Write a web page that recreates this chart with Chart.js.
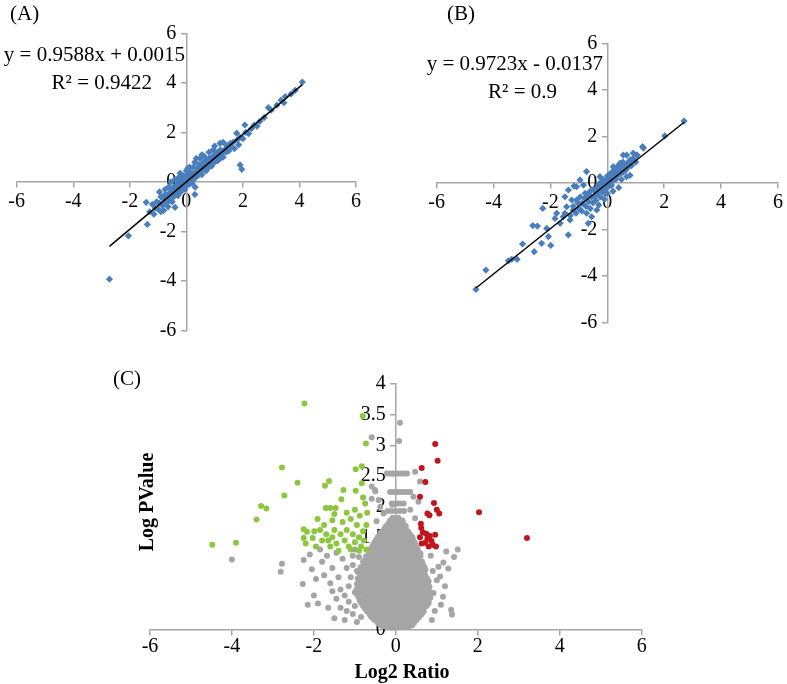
<!DOCTYPE html>
<html>
<head>
<meta charset="utf-8">
<script src="https://cdn.jsdelivr.net/npm/chart.js@4.4.0/dist/chart.umd.min.js"></script>
<style>
  body { margin: 0; background: #fff; }
  #wrap { position: relative; width: 787px; height: 684px; font-family: 'Liberation Serif', 'Times New Roman', serif; }
  canvas { position: absolute; left: 0; top: 0; }
  .lbl { position: absolute; font-size: 21px; line-height: 1; white-space: nowrap; color: #000; }
  .bold { font-weight: bold; font-size: 20px; }
</style>
</head>
<body>
<div id="wrap">
  <canvas id="chartA" width="787" height="684"></canvas>
  <canvas id="chartB" width="787" height="684"></canvas>
  <canvas id="chartC" width="787" height="684"></canvas>

  <div class="lbl" style="left:10px;top:3px">(A)</div>
  <div class="lbl" style="right:602px;top:44px">y = 0.9588x + 0.0015</div>
  <div class="lbl" style="right:635px;top:72px">R² = 0.9422</div>

  <div class="lbl" style="left:447px;top:3px">(B)</div>
  <div class="lbl" style="right:184px;top:53px">y = 0.9723x - 0.0137</div>
  <div class="lbl" style="right:230px;top:81px">R² = 0.9</div>

  <div class="lbl" style="right:646px;top:368px">(C)</div>
  <div class="lbl bold" style="left:146px;top:502px;transform:translate(-50%,-50%) rotate(-90deg)">Log PValue</div>
  <div class="lbl bold" style="left:402px;top:661px;transform:translateX(-50%)">Log2 Ratio</div>
</div>

<script>
// ---- data ----
const abTicks = [-6, -4, -2, 0, 2, 4, 6];
const cXTicks = [-6, -4, -2, 0, 2, 4, 6];
const cYTicks = [0, 0.5, 1, 1.5, 2, 2.5, 3, 3.5, 4];

// (A)
const aPoints = [
  [-2.72,-3.92],[-2.05,-2.17],[-1.38,-1.71],[-1.42,-0.82],[-0.4,-1.02],[0.31,-0.21],[1.9,0.69],[1.96,0.51],[0.3,-0.5],
  [-1.3,-1.2],[-1.2,-0.9],[-1.15,-1.3],[-1.1,-1.05],[-1.05,-0.8],[-1.0,-1.1],[-0.95,-0.85],[-0.9,-1.2],[-0.9,-0.6],
  [-0.85,-0.95],[-0.8,-0.7],[-0.8,-1.15],[-0.75,-0.5],[-0.7,-0.85],[-0.7,-0.6],[-0.65,-1.0],[-0.6,-0.45],[-0.6,-0.75],
  [-0.55,-0.55],[-0.5,-0.3],[-0.5,-0.8],[-0.45,-0.6],[-0.45,-0.2],[-0.4,-0.45],[-0.35,-0.15],[-0.35,-0.35],[-0.3,-0.55],
  [-0.3,0.05],[-0.25,-0.25],[-0.25,0.2],[-0.2,-0.4],[-0.2,-0.05],[-0.15,0.1],[-0.15,-0.2],[-0.1,-0.1],[-0.1,0.25],
  [-0.05,0.0],[-0.05,-0.3],[0,0.1],[0,-0.15],[0.05,0.3],[0.05,0.0],[0.1,-0.1],[0.1,0.15],[0.15,0.4],[0.15,0.05],
  [0.2,0.2],[0.2,-0.05],[0.25,0.35],[0.25,0.6],[0.3,0.15],[0.35,0.4],[0.4,0.25],[0.4,0.55],[0.45,0.7],[0.5,0.4],
  [0.5,0.6],[0.55,0.3],[0.6,0.55],[0.6,0.8],[0.65,0.65],[0.7,0.45],[0.7,0.9],[0.75,0.7],[0.8,0.6],[0.8,0.95],
  [0.85,0.8],[0.9,1.0],[0.9,0.65],[0.95,0.85],[1.0,1.1],[1.0,0.8],[1.05,0.95],[1.1,1.2],[1.1,0.85],[1.15,1.05],
  [1.19,1.56],[1.2,1.3],[1.2,0.95],[1.25,1.15],[1.3,1.0],[1.35,1.3],[1.4,1.2],[1.43,1.47],[1.45,1.45],[1.5,1.25],
  [1.55,1.55],[1.6,1.4],[1.65,1.6],[1.7,1.35],[1.78,1.97],[1.8,1.7],[1.85,1.5],[1.9,1.8],[2.0,1.75],[2.07,2.3],
  [2.1,2.0],[2.2,1.95],[2.3,2.15],[2.4,2.3],[2.5,2.25],[2.6,2.45],[2.75,2.6],[2.9,3.0],[3.0,2.9],[3.2,3.1],
  [3.35,3.3],[3.45,3.2],[3.5,3.45],[3.7,3.55],[3.85,3.7],[4.1,4.03],
  [-0.62,-0.2],[-0.4,0.1],[-0.22,0.35],[0.0,0.45],[0.12,0.6],[0.3,0.8],[0.48,0.95],[0.62,1.05],[0.8,1.2],[0.95,1.3],
  [-0.95,-0.4],[-0.75,-0.3],[0.35,0.95],[0.55,1.1],[1.0,1.45],[1.3,1.6],[0.05,0.55],[-0.55,0.0]
];
const aTrend = [[-2.72, -2.6], [4.1, 3.93]];

// (B)
const bPoints = [
  [-4.62,-4.57],[-4.27,-3.74],[-3.48,-3.34],[-3.36,-3.28],[-3.17,-3.28],[-2.98,-2.62],[-2.57,-2.95],[-2.62,-1.83],
  [-2.46,-1.85],[-2.31,-2.59],[-2.27,-1.09],[-2.13,-1.95],[-2.07,-2.3],[-1.99,-2.68],[-1.84,-1.52],[-1.78,-1.3],
  [-1.66,-1.73],[-1.55,-1.45],[-1.49,-1.3],[-1.49,-0.59],[-1.43,-1.02],[-1.37,-2.23],[-1.37,-0.3],[-1.31,-1.59],
  [-1.25,-0.73],[-1.2,-1.16],[-1.17,-0.13],[-1.08,-0.16],[-1.08,-0.73],[-0.96,0.13],[-0.9,-0.87],[-0.84,-0.09],
  [-0.78,-0.44],[-0.73,0.49],[-0.73,-1.3],[-0.67,-1.73],[-0.55,-1.45],[-0.49,-0.3],[-0.37,-1.16],[-0.26,0.27],
  [-1.3,-1.4],[-1.2,-1.0],[-1.1,-1.3],[-1.05,-0.85],[-1.0,-1.1],[-0.95,-0.6],[-0.9,-1.2],[-0.85,-0.9],[-0.8,-0.65],
  [-0.75,-1.0],[-0.7,-0.5],[-0.65,-0.8],[-0.6,-1.1],[-0.6,-0.35],[-0.55,-0.6],[-0.5,-0.85],[-0.45,-0.3],[-0.45,-0.55],
  [-0.4,-0.75],[-0.35,-0.2],[-0.35,-0.45],[-0.3,-0.95],[-0.3,-0.05],[-0.25,-0.3],[-0.25,-0.6],[-0.2,0.05],[-0.2,-0.15],
  [-0.15,-0.4],[-0.15,0.15],[-0.1,-0.1],[-0.1,-0.7],[-0.05,0.1],[-0.05,-0.25],[0,0.0],[0,0.3],[0,-0.45],[0.05,0.15],
  [0.05,-0.15],[0.1,0.4],[0.1,0.05],[0.15,0.25],[0.15,-0.1],[0.2,0.5],[0.2,0.1],[0.2,-0.35],[0.21,0.7],[0.25,0.3],
  [0.25,0.6],[0.3,0.15],[0.3,0.45],[0.35,0.7],[0.35,0.3],[0.4,0.55],[0.4,-0.2],[0.45,0.4],[0.45,0.8],[0.45,0.85],
  [0.5,0.6],[0.5,0.15],[0.55,0.45],[0.55,0.9],[0.56,1.2],[0.6,0.7],[0.65,0.55],[0.68,1.2],[0.68,0.27],[0.7,0.85],
  [0.75,0.7],[0.8,0.95],[0.8,0.99],[0.8,0.33],[0.85,0.75],[0.9,1.05],[0.91,1.28],[1.0,0.9],[1.03,1.2],[1.05,1.2],
  [1.24,1.56],[1.27,1.5],[2.02,2.02],[2.7,2.66]
];
const bTrend = [[-4.62, -4.51], [2.7, 2.61]];

// (C) volcano plot: grey rows [y, x values], plus loose points
const greyRows = [
  [0.02, [-0.3,-0.17,-0.04,0.09,0.22,0.3]],
  [0.065, [-0.38,-0.25,-0.12,0.01,0.14,0.27,0.4]],
  [0.11, [-0.45,-0.32,-0.19,-0.06,0.07,0.2,0.33,0.45]],
  [0.155, [-0.53,-0.4,-0.27,-0.14,-0.01,0.12,0.25,0.38,0.51]],
  [0.20, [-0.6,-0.47,-0.34,-0.21,-0.08,0.05,0.18,0.31,0.44,0.57]],
  [0.245, [-0.64,-0.51,-0.38,-0.25,-0.12,0.01,0.14,0.27,0.4,0.53,0.63]],
  [0.29, [-0.7,-0.57,-0.44,-0.31,-0.18,-0.05,0.08,0.21,0.34,0.47,0.6,0.68]],
  [0.335, [-0.75,-0.63,-0.5,-0.37,-0.24,-0.11,0.02,0.15,0.28,0.41,0.54,0.67]],
  [0.38, [-0.8,-0.67,-0.54,-0.41,-0.28,-0.15,-0.02,0.11,0.24,0.37,0.5,0.63,0.75]],
  [0.425, [-0.84,-0.73,-0.6,-0.47,-0.34,-0.21,-0.08,0.05,0.18,0.31,0.44,0.57,0.7,0.8]],
  [0.47, [-0.88,-0.72,-0.59,-0.46,-0.33,-0.2,-0.07,0.06,0.19,0.32,0.45,0.58,0.7,0.8]],
  [0.515, [-0.9,-0.8,-0.66,-0.53,-0.4,-0.27,-0.14,-0.01,0.12,0.25,0.38,0.51,0.64,0.76,0.84]],
  [0.56, [-0.94,-0.77,-0.64,-0.51,-0.38,-0.25,-0.12,0.01,0.14,0.27,0.4,0.53,0.66,0.79]],
  [0.605, [-0.86,-0.71,-0.58,-0.45,-0.32,-0.19,-0.06,0.07,0.2,0.33,0.46,0.59,0.72,0.84]],
  [0.65, [-0.96,-0.79,-0.66,-0.53,-0.4,-0.27,-0.14,-0.01,0.12,0.25,0.38,0.51,0.64,0.77]],
  [0.695, [-0.87,-0.73,-0.6,-0.47,-0.34,-0.21,-0.08,0.05,0.18,0.31,0.44,0.57,0.7,0.82]],
  [0.74, [-0.95,-0.8,-0.67,-0.54,-0.41,-0.28,-0.15,-0.02,0.11,0.24,0.37,0.5,0.63,0.78]],
  [0.785, [-0.88,-0.74,-0.61,-0.48,-0.35,-0.22,-0.09,0.04,0.17,0.3,0.43,0.56,0.7,0.8]],
  [0.83, [-0.93,-0.77,-0.64,-0.51,-0.38,-0.25,-0.12,0.01,0.14,0.27,0.4,0.53,0.66,0.76]],
  [0.875, [-0.84,-0.7,-0.57,-0.44,-0.31,-0.18,-0.05,0.08,0.21,0.34,0.47,0.6,0.72]],
  [0.92, [-0.9,-0.75,-0.62,-0.49,-0.36,-0.23,-0.1,0.03,0.16,0.29,0.42,0.55,0.68]],
  [0.965, [-0.82,-0.68,-0.55,-0.42,-0.29,-0.16,-0.03,0.1,0.23,0.36,0.49,0.62,0.72]],
  [1.01, [-0.86,-0.72,-0.59,-0.46,-0.33,-0.2,-0.07,0.06,0.19,0.32,0.45,0.58,0.7]],
  [1.055, [-0.78,-0.65,-0.52,-0.39,-0.26,-0.13,0,0.13,0.26,0.39,0.52,0.66]],
  [1.10, [-0.8,-0.67,-0.54,-0.41,-0.28,-0.15,-0.02,0.11,0.24,0.37,0.5,0.64]],
  [1.145, [-0.74,-0.61,-0.48,-0.35,-0.22,-0.09,0.04,0.17,0.3,0.43,0.56]],
  [1.19, [-0.72,-0.59,-0.46,-0.33,-0.2,-0.07,0.06,0.19,0.32,0.45,0.6]],
  [1.235, [-0.66,-0.53,-0.4,-0.27,-0.14,-0.01,0.12,0.25,0.38,0.5,0.6]],
  [1.28, [-0.65,-0.52,-0.39,-0.26,-0.13,0,0.13,0.26,0.39,0.54]],
  [1.325, [-0.6,-0.47,-0.34,-0.21,-0.08,0.05,0.18,0.31,0.44,0.52]],
  [1.37, [-0.56,-0.43,-0.3,-0.17,-0.04,0.09,0.22,0.35,0.48]],
  [1.415, [-0.52,-0.39,-0.26,-0.13,0,0.13,0.26,0.38,0.46]],
  [1.46, [-0.48,-0.35,-0.22,-0.09,0.04,0.17,0.3,0.42]],
  [1.505, [-0.44,-0.31,-0.18,-0.05,0.08,0.21,0.34,0.4]],
  [1.55, [-0.38,-0.25,-0.12,0.01,0.14,0.27,0.34]],
  [1.595, [-0.34,-0.21,-0.08,0.05,0.18,0.3]],
  [1.64, [-0.28,-0.15,-0.02,0.11,0.24]],
  [1.685, [-0.24,-0.11,0.02,0.15,0.24]],
  [1.73, [-0.18,-0.05,0.08,0.18]],
  [1.775, [-0.14,-0.02,0.1,0.16]],
  [1.82, [-0.08,0.06]],
  [1.93, [-0.2,-0.1,0,0.1,0.2]],
  [2.05, [-0.1,-0.03,0.04,0.11,0.19]],
  [2.24, [-0.14,-0.07,0,0.07,0.14,0.21,0.28,0.35]],
  [2.54, [-0.22,-0.15,-0.08,-0.01,0.06,0.13,0.2,0.27]]
];
const greyLoose = [
  [-4.0,1.14],[-2.78,1.07],[-2.81,0.94],[-2.27,0.74],[-2.25,1.13],[-2.1,1.22],[-2.05,0.98],[-1.95,0.82],[-2.0,0.55],
  [-1.8,1.1],[-1.75,0.88],[-1.68,1.2],[-1.6,0.75],[-1.55,0.62],[-1.45,0.5],[-1.35,0.35],[-1.2,0.3],[-1.05,0.25],
  [-1.55,1.0],[-1.4,0.85],[-1.3,1.15],[-1.2,1.0],[-1.1,0.85],[-1.05,1.2],[-1.35,0.65],[-1.25,0.55],[-1.15,0.45],
  [-1.0,0.6],[-1.0,0.38],[-1.15,0.7],[-1.45,1.25],[-1.85,1.3],[-1.65,0.35],[-1.9,0.42],[-2.15,0.4],[-1.5,0.18],
  [-1.25,0.15],[-0.95,0.12],[-0.85,0.2],[-1.05,1.05],[-1.0,1.3],[-0.95,0.95],[-0.9,1.18],
  [1.51,1.3],[1.42,1.18],[1.23,1.27],[1.16,1.09],[1.28,0.99],[1.08,0.86],[1.2,0.7],[1.15,0.53],[1.35,0.32],
  [1.37,0.24],[0.92,0.59],[1.0,0.8],[1.04,1.02],[0.9,0.95],[0.95,0.3],[0.88,0.15],[1.1,0.4],[0.85,1.2],
  [-0.51,2.27],[-0.59,2.13],[-0.38,2.0],[-0.3,1.89],[-0.47,1.76],[0.47,2.57],[0.59,2.41],[0.43,2.16],[0.55,2.08],
  [0.35,1.95],[0.47,1.81],[-0.59,2.33],[-0.5,2.25],[-0.42,2.11],[0.1,3.37],[0.08,3.07],[-0.59,3.13]
];
const greenPoints = [
  [-4.48,1.38],[-3.9,1.41],[-3.4,1.79],[-3.29,2.01],[-3.16,1.97],[-2.78,2.64],[-2.72,2.18],[-2.4,2.39],[-2.23,3.68],
  [-2.25,1.63],[-2.17,1.59],[-2.25,1.49],[-2.2,1.4],[-1.99,1.6],[-2.03,1.49],[-1.95,1.35],[-1.91,1.8],[-1.73,2.34],
  [-1.63,2.42],[-1.71,1.98],[-1.6,1.98],[-1.47,1.98],[-1.5,1.88],[-1.33,2.12],[-1.28,2.27],[-0.98,2.61],[-0.83,2.66],
  [-0.98,2.26],[-0.83,2.38],[-0.81,3.48],[-0.73,3.03],[-0.8,2.15],[-0.75,2.05],[-0.7,1.9],[-0.72,1.7],[-1.75,1.7],
  [-1.7,1.55],[-1.65,1.45],[-1.6,1.35],[-1.55,1.5],[-1.5,1.62],[-1.45,1.4],[-1.4,1.28],[-1.35,1.55],[-1.3,1.75],
  [-1.25,1.45],[-1.2,1.62],[-1.15,1.35],[-1.1,1.8],[-1.05,1.55],[-1.0,1.42],[-0.95,1.7],[-0.9,1.5],[-0.88,1.85],
  [-0.85,1.35],[-0.8,1.6],[-0.78,1.45],[-0.72,1.3],[-1.85,1.62],[-1.8,1.45],[-1.55,1.78],[-1.2,1.9],[-1.0,1.95],
  [-0.9,1.28],[-1.1,1.3]
];
const redPoints = [
  [0.96,3.02],[1.02,2.75],[0.63,2.63],[0.72,2.4],[0.59,2.16],[0.93,2.06],[0.77,1.89],[0.82,1.86],[1.0,1.95],
  [1.06,1.89],[2.03,1.91],[3.2,1.49],[0.61,1.72],[0.62,1.65],[0.66,1.58],[0.59,1.5],[0.74,1.56],[0.77,1.48],
  [0.83,1.52],[0.87,1.44],[0.96,1.54],[0.72,1.41],[0.8,1.35],[0.9,1.38],[0.63,1.4],[0.98,1.35]
];

// ---- drawing ----
const toXY = arr => arr.map(p => ({ x: p[0], y: p[1] }));
const greyPoints = greyRows.flatMap(r => r[1].map(x => [x, r[0]])).concat(greyLoose);

// y axis sits at x = 0 and Chart.js right-aligns its labels on the line itself,
// two trailing spaces keep them clear of the tick marks
function axis(ticks, pos, pad, suffix) {
  return {
    type: 'linear',
    min: ticks[0],
    max: ticks[ticks.length - 1],
    position: pos,
    afterBuildTicks: s => { s.ticks = ticks.map(v => ({ value: v })); },
    ticks: { autoSkip: false, maxRotation: 0, color: '#000', padding: pad,
             font: { family: 'Liberation Serif', size: 20 },
             callback: v => String(v) + suffix },
    grid: { drawOnChartArea: false, tickLength: 5, color: '#A6A6A6', lineWidth: 1.5 },
    border: { color: '#A6A6A6', width: 1.5 }
  };
}

function makeChart(id, datasets, xTicks, yTicks, padding, xPad) {
  return new Chart(document.getElementById(id), {
    type: 'scatter',
    data: { datasets },
    options: {
      responsive: false,
      animation: false,
      devicePixelRatio: 1,
      layout: { padding },
      plugins: { legend: { display: false }, tooltip: { enabled: false } },
      scales: {
        x: axis(xTicks, { y: 0 }, xPad, ''),
        y: axis(yTicks, { x: 0 }, 3, '  ')
      }
    }
  });
}

function trendSet(pts) {
  return { type: 'line', data: toXY(pts), borderColor: '#000', borderWidth: 1.5, pointRadius: 0, showLine: true };
}
function diamondSet(pts) {
  return { data: toXY(pts), pointStyle: 'rectRot', pointRadius: 3.6, backgroundColor: '#4A7EBB', borderWidth: 0 };
}
function dotSet(pts, color) {
  return { data: toXY(pts), pointRadius: 3, backgroundColor: color, borderWidth: 0 };
}

makeChart('chartA', [trendSet(aTrend), diamondSet(aPoints)], abTicks, abTicks,
  { left: 16.7, right: 431, top: 33.3, bottom: 353.3 }, 3);
makeChart('chartB', [trendSet(bTrend), diamondSet(bPoints)], abTicks, abTicks,
  { left: 436.7, right: 9.1, top: 43.3, bottom: 361.3 }, 3);
makeChart('chartC', [dotSet(redPoints, '#C0161E'), dotSet(greenPoints, '#8DC63F'), dotSet(greyPoints, '#A5A5A5')],
  cXTicks, cYTicks, { left: 150, right: 145.3, top: 384, bottom: 54.7 }, 0);
</script>
</body>
</html>
